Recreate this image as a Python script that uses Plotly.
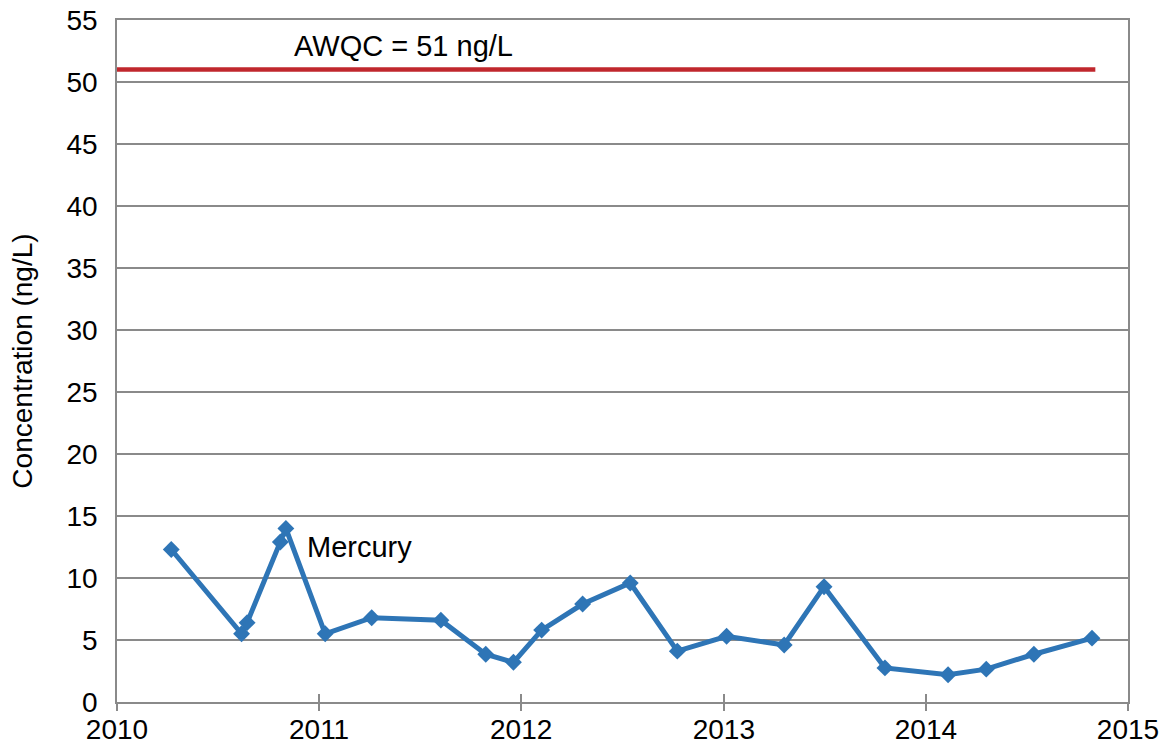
import plotly.graph_objects as go

# Mercury concentration samples (ng/L)
dates = ["2010-04-09", "2010-08-14", "2010-08-24", "2010-10-23", "2010-11-02",
         "2011-01-12", "2011-04-06", "2011-08-09", "2011-10-29", "2011-12-18",
         "2012-02-07", "2012-04-21", "2012-07-16", "2012-10-09", "2013-01-06",
         "2013-04-20", "2013-07-01", "2013-10-19", "2014-02-10", "2014-04-20",
         "2014-07-15", "2014-10-28"]
mercury = [12.3, 5.5, 6.4, 12.9, 14.0,
           5.5, 6.8, 6.6, 3.85, 3.2,
           5.8, 7.9, 9.6, 4.1, 5.3,
           4.6, 9.3, 2.75, 2.2, 2.65,
           3.85, 5.15]

# Ambient water quality criterion
awqc_dates = ["2010-01-01", "2014-11-03"]
awqc_values = [51, 51]

year_ticks = ["2010-01-01", "2011-01-01", "2012-01-01", "2013-01-01", "2014-01-01", "2015-01-01"]
year_labels = ["2010", "2011", "2012", "2013", "2014", "2015"]
y_ticks = [0, 5, 10, 15, 20, 25, 30, 35, 40, 45, 50, 55]

FONT = "Liberation Sans, Arial, sans-serif"
GRID = "#8a8a8a"

fig = go.Figure()
fig.add_trace(go.Scatter(
    x=awqc_dates, y=awqc_values, mode="lines",
    line=dict(color="#c0272d", width=4.5), showlegend=False, hoverinfo="skip",
    cliponaxis=False,
))
fig.add_trace(go.Scatter(
    x=dates, y=mercury, mode="lines+markers",
    line=dict(color="#2e75b6", width=5),
    marker=dict(symbol="diamond", size=13, color="#2e75b6"),
    showlegend=False,
))

fig.add_annotation(x="2010-11-13", y=52.9, text="AWQC = 51 ng/L", showarrow=False,
                   xanchor="left", yanchor="middle", font=dict(size=29, color="black", family=FONT))
fig.add_annotation(x="2010-12-06", y=12.5, text="Mercury", showarrow=False,
                   xanchor="left", yanchor="middle", font=dict(size=29, color="black", family=FONT))

fig.update_layout(
    width=1159, height=752,
    margin=dict(l=117, r=31, t=20, b=50),
    plot_bgcolor="white", paper_bgcolor="white",
    font=dict(family=FONT, size=28, color="black"),
    xaxis=dict(
        type="date", range=["2010-01-01", "2015-01-01"], automargin=False,
        tickvals=year_ticks, ticktext=year_labels, ticklabeloverflow="allow",
        ticks="inside", ticklen=8, tickwidth=1.5, tickcolor=GRID,
        showline=True, linecolor=GRID, linewidth=1.5, mirror=True,
        showgrid=False, zeroline=False, ticklabelstandoff=2,
        tickfont=dict(size=28, family=FONT, color="black"),
    ),
    xaxis2=dict(
        type="date", range=["2010-01-01", "2015-01-01"], overlaying="x", matches="x",
        automargin=False,
        tickvals=year_ticks, ticks="outside", ticklen=8, tickwidth=1.5, tickcolor=GRID,
        showticklabels=False, showgrid=False, showline=False, zeroline=False,
    ),
    yaxis=dict(
        range=[0, 55], tickvals=y_ticks, automargin=False, ticklabeloverflow="allow",
        showgrid=True, gridcolor=GRID, gridwidth=1.5,
        showline=True, linecolor=GRID, linewidth=1.5, mirror=True,
        zeroline=False, ticks="", ticklabelstandoff=12,
        tickfont=dict(size=28, family=FONT, color="black"),
        title=dict(text="Concentration (ng/L)", font=dict(size=28, family=FONT, color="black"),
                   standoff=26),
    ),
)
# dummy invisible trace to realise the overlay axis
fig.add_trace(go.Scatter(x=[year_ticks[0]], y=[0], xaxis="x2", mode="markers",
                         marker=dict(opacity=0), showlegend=False, hoverinfo="skip"))

fig.write_html("out.html", config={"displayModeBar": False},
               post_script="document.body.style.margin='0';")
